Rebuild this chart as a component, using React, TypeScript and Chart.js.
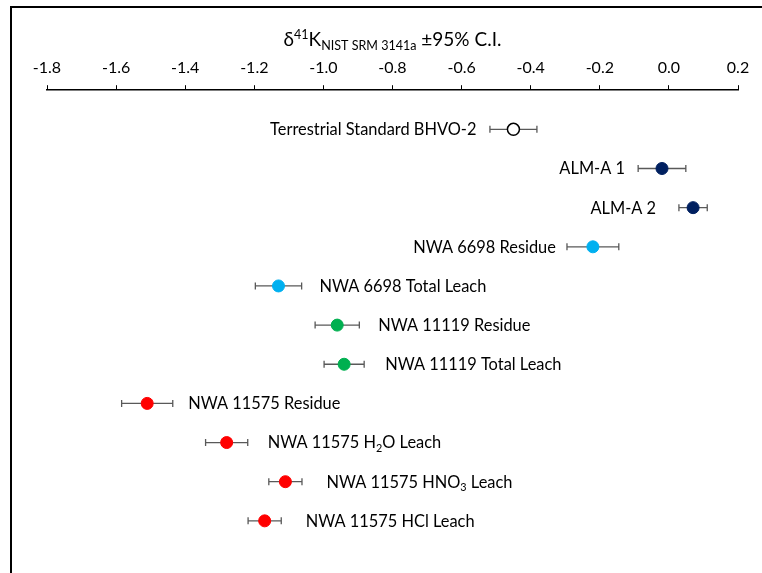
import React, { useEffect, useRef } from "react";
import { Chart, registerables } from "chart.js";

Chart.register(...registerables);

// ---- data ----
const samples = [
  "Terrestrial Standard BHVO-2",
  "ALM-A 1",
  "ALM-A 2",
  "NWA 6698 Residue",
  "NWA 6698 Total Leach",
  "NWA 11119 Residue",
  "NWA 11119 Total Leach",
  "NWA 11575 Residue",
  "NWA 11575 H_{2}O Leach",
  "NWA 11575 HNO_{3} Leach",
  "NWA 11575 HCl Leach",
];
const delta41K = [-0.45, -0.02, 0.07, -0.22, -1.13, -0.96, -0.94, -1.51, -1.28, -1.11, -1.17];
const ci95 = [0.068, 0.069, 0.041, 0.075, 0.067, 0.064, 0.058, 0.074, 0.061, 0.048, 0.048];
const sampleGroup = [0, 1, 1, 2, 2, 3, 3, 4, 4, 4, 4];
const labelSide = ["left", "left", "left", "left", "right", "right", "right", "right", "right", "right", "right"];
const groupNames = ["Terrestrial Standard", "ALM-A", "NWA 6698", "NWA 11119", "NWA 11575"];
const groupFill = ["#FFFFFF", "#002060", "#00B0F0", "#00B050", "#FF0000"];
const groupBorder = ["#000000", "#002060", "#00B0F0", "#00B050", "#FF0000"];
const xTitle = "δ^{41}K_{NIST SRM 3141a} ±95% C.I.";
const xMin = -1.8;
const xMax = 0.2;
const xStep = 0.2;

const FONT = "Lato, 'Open Sans', sans-serif";

type Seg = { t: string; k: "n" | "sup" | "sub" };
function parseRich(s: string): Seg[] {
  const out: Seg[] = [];
  const re = /(\^\{[^}]*\}|_\{[^}]*\})/g;
  let last = 0;
  let m: RegExpExecArray | null;
  while ((m = re.exec(s))) {
    if (m.index > last) out.push({ t: s.slice(last, m.index), k: "n" });
    const tok = m[0];
    out.push({ t: tok.slice(2, -1), k: tok[0] === "^" ? "sup" : "sub" });
    last = m.index + tok.length;
  }
  if (last < s.length) out.push({ t: s.slice(last), k: "n" });
  return out;
}

function drawRich(
  ctx: CanvasRenderingContext2D,
  s: string,
  x: number,
  yMid: number,
  align: "left" | "right" | "center",
  size: number,
  color: string
) {
  const segs = parseRich(s);
  const small = size * 0.66;
  const fontFor = (k: string) => `${k === "n" ? size : small}px ${FONT}`;
  let total = 0;
  const widths = segs.map((sg) => {
    ctx.font = fontFor(sg.k);
    const w = ctx.measureText(sg.t).width;
    total += w;
    return w;
  });
  let cx = align === "left" ? x : align === "right" ? x - total : x - total / 2;
  const base = yMid + size * 0.36;
  ctx.save();
  ctx.fillStyle = color;
  ctx.textBaseline = "alphabetic";
  ctx.textAlign = "left";
  segs.forEach((sg, i) => {
    ctx.font = fontFor(sg.k);
    let y = base;
    if (sg.k === "sup") y = base - size * 0.36;
    if (sg.k === "sub") y = base + size * 0.2;
    ctx.fillText(sg.t, cx, y);
    cx += widths[i];
  });
  ctx.restore();
}

const annotPlugin = {
  id: "annot",
  beforeDraw(chart: any) {
    const ctx: CanvasRenderingContext2D = chart.ctx;
    ctx.save();
    ctx.fillStyle = "#FFFFFF";
    ctx.fillRect(0, 0, chart.width, chart.height);
    ctx.strokeStyle = "#000000";
    ctx.lineWidth = 2;
    ctx.beginPath();
    ctx.moveTo(11, chart.height);
    ctx.lineTo(11, 7);
    ctx.lineTo(chart.width, 7);
    ctx.stroke();
    ctx.restore();
  },
  beforeDatasetsDraw(chart: any) {
    const ctx: CanvasRenderingContext2D = chart.ctx;
    const xs = chart.scales.x;
    const ys = chart.scales.y;
    ctx.save();
    ctx.strokeStyle = "#595959";
    ctx.lineWidth = 1.3;
    samples.forEach((_, i) => {
      const y = ys.getPixelForValue(i + 1);
      const x1 = xs.getPixelForValue(delta41K[i] - ci95[i]);
      const x2 = xs.getPixelForValue(delta41K[i] + ci95[i]);
      ctx.beginPath();
      ctx.moveTo(x1, y);
      ctx.lineTo(x2, y);
      ctx.moveTo(x1, y - 3.5);
      ctx.lineTo(x1, y + 3.5);
      ctx.moveTo(x2, y - 3.5);
      ctx.lineTo(x2, y + 3.5);
      ctx.stroke();
    });
    ctx.restore();
  },
  afterDatasetsDraw(chart: any) {
    const ctx: CanvasRenderingContext2D = chart.ctx;
    const xs = chart.scales.x;
    const ys = chart.scales.y;
    samples.forEach((name, i) => {
      const y = ys.getPixelForValue(i + 1);
      const xc = xs.getPixelForValue(delta41K[i]);
      if (labelSide[i] === "left") drawRich(ctx, name, xc - 37, y, "right", 16.4, "#000000");
      else drawRich(ctx, name, xc + 41, y, "left", 16.4, "#000000");
    });
    const ca = chart.chartArea;
    drawRich(ctx, xTitle, (ca.left + ca.right) / 2, 39, "center", 19, "#000000");
  },
};

export default function App() {
  const ref = useRef<HTMLCanvasElement | null>(null);
  useEffect(() => {
    if (!ref.current) return;
    const datasets = groupNames.map((g, gi) => ({
      label: g,
      data: samples
        .map((_, i) => ({ x: delta41K[i], y: i + 1, g: sampleGroup[i] }))
        .filter((p) => p.g === gi)
        .map((p) => ({ x: p.x, y: p.y })),
      backgroundColor: groupFill[gi],
      borderColor: groupBorder[gi],
      borderWidth: gi === 0 ? 1.5 : 1,
      pointRadius: 6,
      showLine: false,
    }));
    const chart = new Chart(ref.current, {
      type: "scatter",
      data: { datasets },
      options: {
        animation: false,
        responsive: false,
        devicePixelRatio: 1,
        layout: { padding: { left: 47, right: 24, top: 50, bottom: 13 } },
        plugins: { legend: { display: false }, tooltip: { enabled: false } },
        scales: {
          x: {
            type: "linear",
            position: "top",
            min: xMin,
            max: xMax,
            ticks: {
              stepSize: xStep,
              color: "#000000",
              padding: 8,
              font: { family: FONT, size: 16 },
              callback: (v: any) => Number(v).toFixed(1),
            },
            grid: { drawOnChartArea: false, drawTicks: true, tickLength: 5, color: "#000000", lineWidth: 1 },
            border: { display: true, color: "#000000", width: 1.5 },
          },
          y: {
            type: "linear",
            display: false,
            min: 0,
            max: 12,
            reverse: true,
          },
        },
      },
      plugins: [annotPlugin],
    });
    return () => chart.destroy();
  }, []);
  return (
    <div style={{ position: "fixed", left: 0, top: 0, width: 762, height: 573, background: "#fff" }}>
      <canvas ref={ref} width={762} height={573} />
    </div>
  );
}
